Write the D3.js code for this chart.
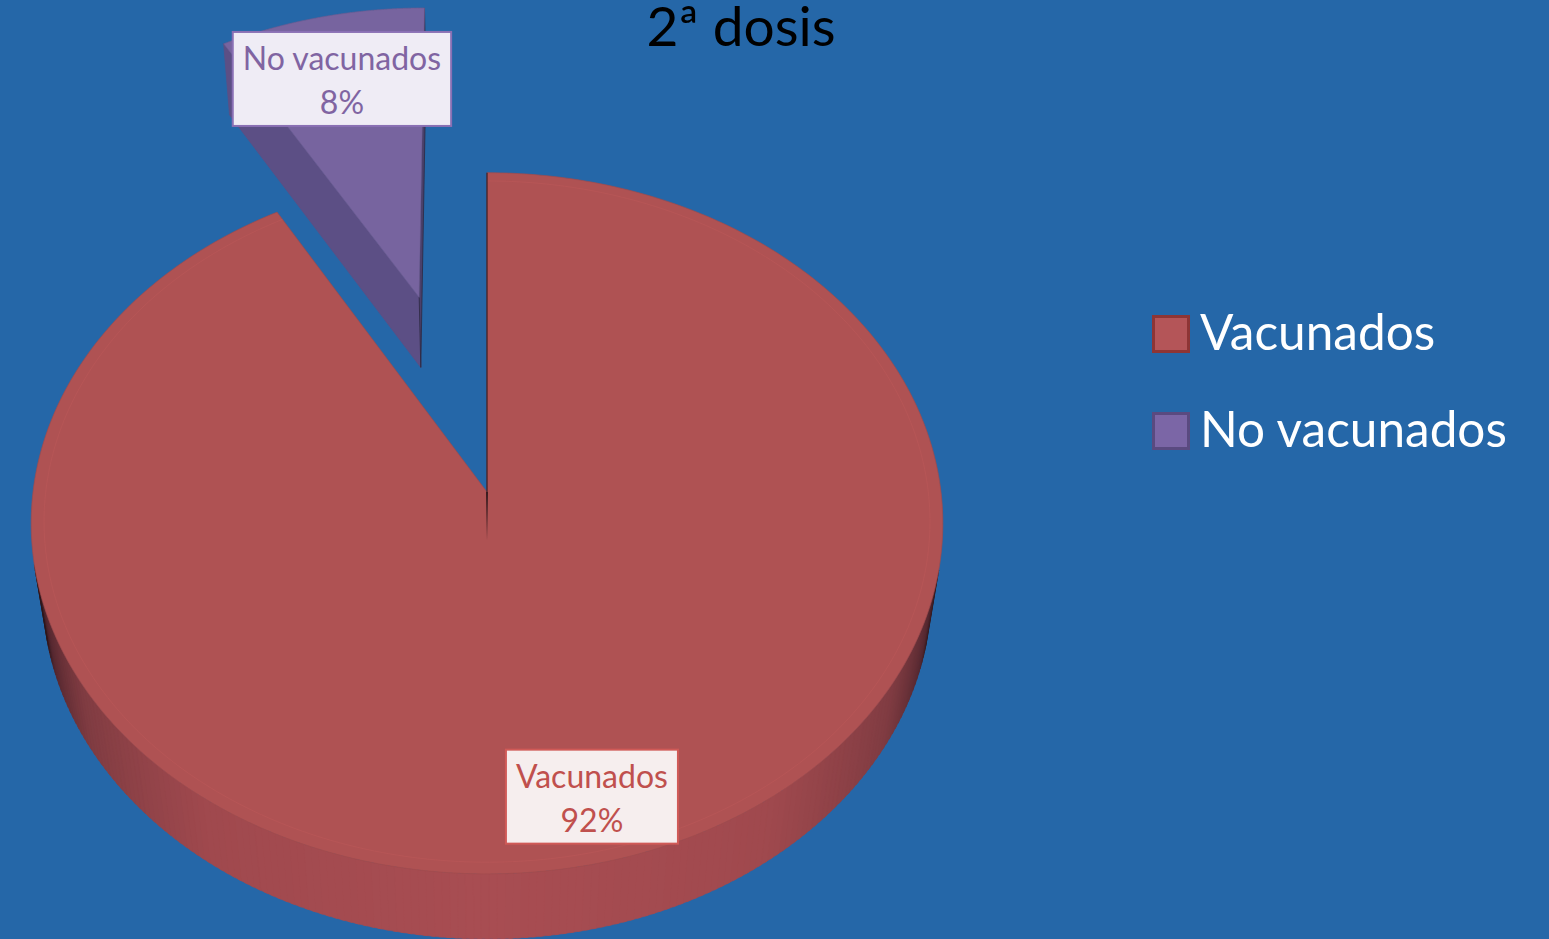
<!DOCTYPE html>
<html><head><meta charset="utf-8">
<script src="https://cdn.jsdelivr.net/npm/d3@7"></script>
<style>html,body{margin:0;padding:0;background:#2567A8;overflow:hidden}</style>
</head><body><svg id="c" width="1549" height="939"></svg>
<script>
const title = "2ª dosis";
const categories = ["Vacunados", "No vacunados"];
const values = [91.7, 8.3];
const explode = [0, 0.61];

const topColors = ["#AF5253", "#77649F"];
const cutColors = ["#7E3A3E", "#5C4F85"];
const labelText = ["#C0504D", "#8064A2"];
const labelFill = ["#F6EEEE", "#EFECF5"];
const labelStroke = ["#D05A57", "#8A70B4"];
const legendFill = ["#B45558", "#7B66A6"];
const legendStroke = ["#8E3535", "#5A4A80"];

const W = 1549, H = 939;
const svg = d3.select("#c");
svg.append("rect").attr("width", W).attr("height", H).attr("fill", "#2567A8");

// 3D projection
const cx = 487, cy = 492, K = 454, th = 50 * Math.PI / 180, persp = 0.139, depth = 0.242;
const sT = Math.sin(th), cT = Math.cos(th);
function proj(x, y, z) {
  const d = 1 - persp * (y * sT + z * cT);
  return [cx + K * x / d, cy + K * (-y * cT + z * sT) / d];
}
const total = d3.sum(values);
const arcs = d3.pie().sort(null).value(d => d)(values);
const line = d3.line();
const defs = svg.append("defs");

const wallShade = d3.scaleLinear()
  .domain([0, 0.45, 0.75, 0.92, 1])
  .range(["#A84D52", "#A0494E", "#803C42", "#552830", "#2A1418"]);

const order = [1, 0];
order.forEach(i => {
  const a = arcs[i];
  const mid = (a.startAngle + a.endAngle) / 2;
  const ox = explode[i] * Math.sin(mid), oz = -explode[i] * Math.cos(mid);
  const pt = (ang, rr, y) => proj(ox + rr * Math.sin(ang), y, oz - rr * Math.cos(ang));
  const g = svg.append("g");
  const camX = 0, camY = sT / persp, camZ = cT / persp;

  const N = 360;
  const step = (a.endAngle - a.startAngle) / N;
  for (let k = 0; k < N; k++) {
    const a0 = a.startAngle + k * step, a1 = a0 + step, am = (a0 + a1) / 2;
    const nx = Math.sin(am), nz = -Math.cos(am);
    const px = ox + nx, pz = oz + nz;
    const vis = nx * (camX - px) + nz * (camZ - pz);
    if (vis <= 0) continue;
    const rel = Math.abs(am - Math.PI) / (Math.PI - Math.acos(-persp / cT));
    const col = wallShade(Math.min(1, rel));
    g.append("path")
      .attr("d", line([pt(a0, 1, 0), pt(a1 + step * 0.5, 1, 0), pt(a1 + step * 0.5, 1, -depth), pt(a0, 1, -depth)]) + "Z")
      .attr("fill", col).attr("stroke", col).attr("stroke-width", 0.6);
  }

  [[a.startAngle, -1], [a.endAngle, 1]].forEach(([ang, sgn], j) => {
    const nx = sgn * Math.cos(ang), nz = sgn * Math.sin(ang);
    const vis = nx * (camX - ox) + nz * (camZ - oz);
    if (vis <= 1e-6) return;
    g.append("path")
      .attr("d", line([pt(0, 0, 0), pt(ang, 1, 0), pt(ang, 1, -depth), pt(0, 0, -depth)]) + "Z")
      .attr("fill", j === 0 ? cutColors[i] : d3.color(cutColors[i]).darker(0.6))
      .attr("stroke", j === 0 ? cutColors[i] : "#2e2840").attr("stroke-width", 0.8);
  });

  const topPts = [pt(0, 0, 0)];
  for (let k = 0; k <= N; k++) topPts.push(pt(a.startAngle + k * step, 1, 0));
  g.append("path").attr("d", line(topPts) + "Z")
    .attr("fill", topColors[i])
    .attr("stroke", d3.color(topColors[i]).darker(0.25)).attr("stroke-width", 0.7);

  if (i === 0) {
    const bev = [];
    for (let k = 0; k <= N; k++) bev.push(pt(a.startAngle + k * step, 0.972, 0));
    g.append("path").attr("d", line(bev)).attr("fill", "none")
      .attr("stroke", "#C25B5B").attr("stroke-opacity", 0.35).attr("stroke-width", 1);
    g.append("path").attr("d", line([pt(0, 0, 0), pt(a.startAngle, 1, 0)]))
      .attr("stroke", "#2a1820").attr("stroke-width", 1.3).attr("stroke-opacity", 0.8);
  }
});

// vertex edge of red slice, fading
{
  const v0 = proj(0, 0, 0), v1 = proj(0, -depth * 0.7, 0);
  const grad = defs.append("linearGradient").attr("id", "vfade")
    .attr("gradientUnits", "userSpaceOnUse")
    .attr("x1", v0[0]).attr("y1", v0[1]).attr("x2", v1[0]).attr("y2", v1[1]);
  grad.append("stop").attr("offset", 0).attr("stop-color", "#2a1418").attr("stop-opacity", 0.9);
  grad.append("stop").attr("offset", 1).attr("stop-color", "#2a1418").attr("stop-opacity", 0);
  svg.append("path").attr("d", line([v0, v1])).attr("stroke", "url(#vfade)").attr("stroke-width", 2);
}

// data labels
const fontFam = "Lato, 'Open Sans', sans-serif";
arcs.forEach((a, i) => {
  const mid = (a.startAngle + a.endAngle) / 2;
  const rr = explode[i] + 0.81;
  const c = proj(rr * Math.sin(mid), 0, -rr * Math.cos(mid));
  const cxL = c[0] + 3, cyL = c[1] + 12;
  const lg = svg.append("g");
  const rect = lg.append("rect");
  const t1 = lg.append("text").attr("x", cxL).attr("y", cyL - 9).attr("text-anchor", "middle")
    .attr("font-family", fontFam).attr("font-size", 32).attr("fill", labelText[i]).text(categories[i]);
  const t2 = lg.append("text").attr("x", cxL).attr("y", cyL + 35).attr("text-anchor", "middle")
    .attr("font-family", fontFam).attr("font-size", 32).attr("fill", labelText[i])
    .text(Math.round(values[i] / total * 100) + "%");
  const w = Math.max(t1.node().getComputedTextLength(), t2.node().getComputedTextLength()) + 20;
  rect.attr("x", cxL - w / 2).attr("y", cyL - 47).attr("width", w).attr("height", 94)
    .attr("fill", labelFill[i]).attr("stroke", labelStroke[i]).attr("stroke-width", 2);
});

// title
svg.append("text").attr("x", 741).attr("y", 46).attr("text-anchor", "middle")
  .attr("font-family", fontFam).attr("font-size", 55).attr("fill", "#000").text(title);

// legend
categories.forEach((c, i) => {
  const yc = 334 + i * 97;
  svg.append("rect").attr("x", 1153.5).attr("y", yc - 17.5).attr("width", 35).attr("height", 35)
    .attr("fill", legendFill[i]).attr("stroke", legendStroke[i]).attr("stroke-width", 3);
  svg.append("text").attr("x", 1200).attr("y", yc + 16).attr("font-family", fontFam)
    .attr("font-size", 49.5).attr("fill", "#fff").text(c);
});
</script></body></html>
